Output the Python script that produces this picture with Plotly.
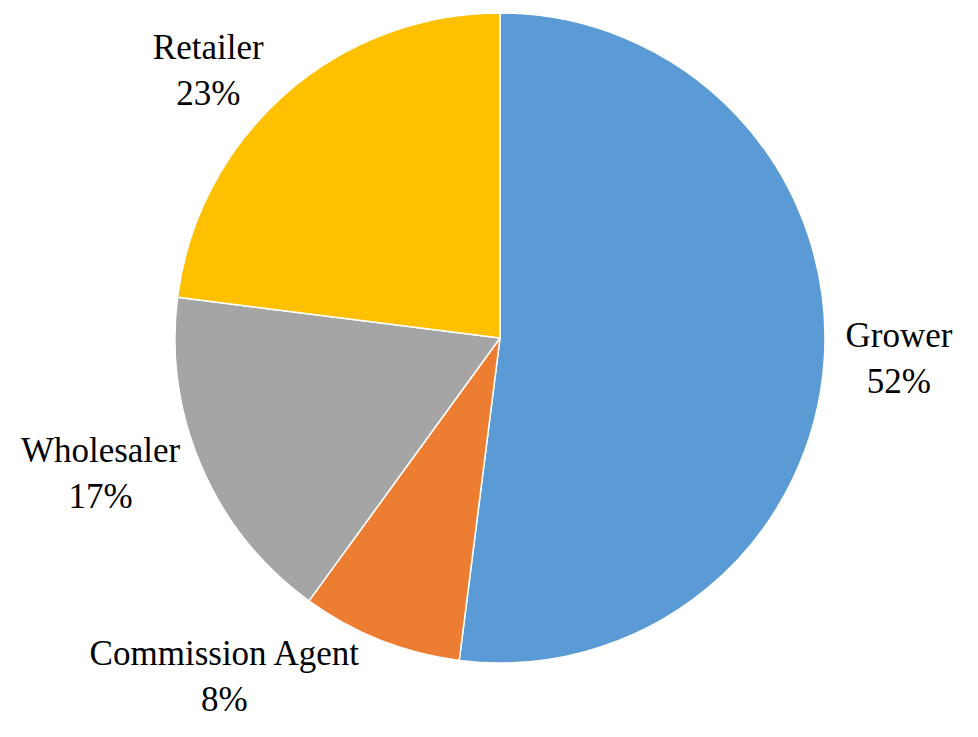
import plotly.graph_objects as go

labels = ["Grower", "Commission Agent", "Wholesaler", "Retailer"]
values = [52, 8, 17, 23]
colors = ["#5B9BD5", "#ED7D31", "#A5A5A5", "#FFC000"]

W, H = 978, 737
cx, cy, r = 500, 337, 325

SERIF = "'Times New Roman', 'Liberation Serif', 'DejaVu Serif', serif"

fig = go.Figure(go.Pie(
    labels=labels,
    values=values,
    sort=False,
    direction="clockwise",
    rotation=0,
    marker=dict(colors=colors, line=dict(color="white", width=1.5)),
    textposition="outside",
    texttemplate="%{label}<br>%{percent:.0%}",
    outsidetextfont=dict(family=SERIF, size=35, color="black"),
    textfont=dict(family=SERIF, size=35, color="black"),
    showlegend=False,
    domain=dict(x=[(cx - r) / W, (cx + r) / W], y=[1 - (cy + r + 1) / H, 1 - (cy - r + 1) / H]),
))

fig.update_layout(
    width=W, height=H,
    margin=dict(l=0, r=0, t=0, b=0),
    paper_bgcolor="white",
    plot_bgcolor="white",
    font=dict(family=SERIF),
)

fig.write_html("out.html")
